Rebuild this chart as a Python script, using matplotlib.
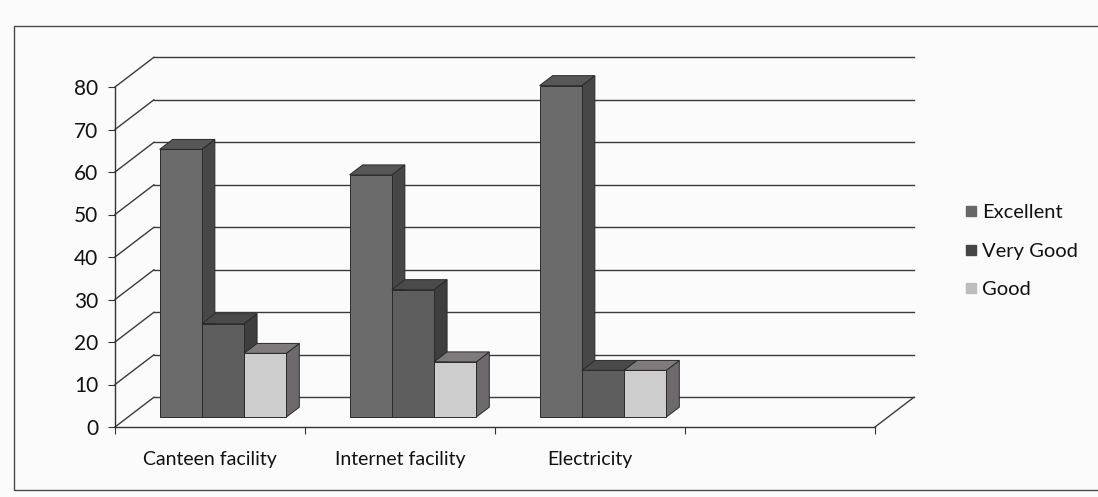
import matplotlib
matplotlib.use('Agg')
import matplotlib.pyplot as plt
from matplotlib.patches import Polygon, Rectangle
from matplotlib.lines import Line2D

plt.rcParams['font.family'] = ['Lato', 'DejaVu Sans']

# survey results, percent of respondents
categories = ['Canteen facility', 'Internet facility', 'Electricity']
series = ['Excellent', 'Very Good', 'Good']
excellent = [63, 57, 78]
very_good = [22, 30, 11]
good = [15, 13, 11]
n_slots = 4          # category axis keeps one empty slot on the right
y_ticks = list(range(0, 90, 10))

# face colours per series: front, side, top
colours = {
    'Excellent': ('#6b6b6b', '#474747', '#575757'),
    'Very Good': ('#5e5e5e', '#3e3e3e', '#4a4a4a'),
    'Good': ('#cdcdcd', '#6e696d', '#7f7a7e'),
}
legend_colours = ['#676767', '#454545', '#bdbdbd']

# oblique depth direction (category units, value units)
ox, oy = 0.205, 7.0
d0, d1 = 1 / 3, 2 / 3          # bars sit in the middle third of the floor
gap = 1.5                       # gap width, as a fraction of one bar
w = 1 / (len(series) + gap)

fig = plt.figure(figsize=(10.98, 4.97), dpi=100)
fig.patch.set_facecolor('#fbfbfb')
ax = fig.add_axes([0, 0, 1, 1])
ax.set_facecolor('none')
ax.set_xlim(-115 / 190, (1098 - 115) / 190)
ax.set_ylim(-70 / 4.25, (497 - 70) / 4.25)

# side wall, back wall and floor
grid_kw = dict(color='#3a3a3a', lw=1.0, zorder=1)
for v in y_ticks:
    ax.plot([0, ox], [v, v + oy], **grid_kw)
    ax.plot([ox, n_slots + ox], [v + oy, v + oy], **grid_kw)
ax.plot([n_slots, n_slots + ox], [0, oy], **grid_kw)

values = [excellent, very_good, good]
edge = dict(ec='#2a2a2a', lw=0.7)
dx = (d1 - d0) * ox
dy = (d1 - d0) * oy
for i in range(len(categories)):
    for j, name in enumerate(series):
        v = values[j][i]
        front, side, top = colours[name]
        x0 = i + gap / 2 * w + j * w + d0 * ox
        x1 = x0 + w
        y0 = d0 * oy
        z = 3 + i * 3 + j
        ax.add_patch(Polygon([(x1, y0), (x1 + dx, y0 + dy), (x1 + dx, y0 + v + dy), (x1, y0 + v)],
                             fc=side, zorder=z, **edge))
        ax.add_patch(Polygon([(x0, y0 + v), (x1, y0 + v), (x1 + dx, y0 + v + dy), (x0 + dx, y0 + v + dy)],
                             fc=top, zorder=z, **edge))
        ax.bar(x0, v, width=w, bottom=y0, align='edge', color=front,
               edgecolor='#2a2a2a', linewidth=0.7, zorder=z)

# front axes
for s in ['top', 'right']:
    ax.spines[s].set_visible(False)
for s in ['left', 'bottom']:
    ax.spines[s].set_color('#333333')
    ax.spines[s].set_linewidth(1.0)
ax.spines['left'].set_position(('data', 0))
ax.spines['left'].set_bounds(0, 80)
ax.spines['bottom'].set_position(('data', 0))
ax.spines['bottom'].set_bounds(0, n_slots)
ax.set_yticks(y_ticks)
ax.set_xticks(range(n_slots + 1))
ax.set_xticklabels([])
ax.set_xticks([i + 0.5 for i in range(len(categories))], minor=True)
ax.set_xticklabels(categories, minor=True)
ax.tick_params(axis='x', which='minor', length=0, pad=17, labelsize=14, labelcolor='#111111')
ax.tick_params(axis='x', which='major', length=5, direction='out', color='#333333')
ax.tick_params(axis='y', length=5, pad=7, labelsize=15, color='#333333', labelcolor='#111111')

handles = [Line2D([], [], ls='none', marker='s', ms=7, mfc=c, mec=c) for c in legend_colours]
leg = ax.legend(handles, series, loc='center left', bbox_to_anchor=(965 / 1098, 1 - 251 / 497),
                bbox_transform=fig.transFigure, frameon=False, fontsize=14.5,
                handlelength=0.55, handletextpad=0.3, labelspacing=1.08,
                borderpad=0, borderaxespad=0)
for t in leg.get_texts():
    t.set_color('#111111')

# chart area border
fig.add_artist(Rectangle((14 / 1098, 1 - 490 / 497), 1.2, (490 - 26) / 497,
                         transform=fig.transFigure, fill=False, ec='#4a4a4a', lw=1.0))

fig.savefig('out.png', dpi=100, facecolor=fig.get_facecolor())
